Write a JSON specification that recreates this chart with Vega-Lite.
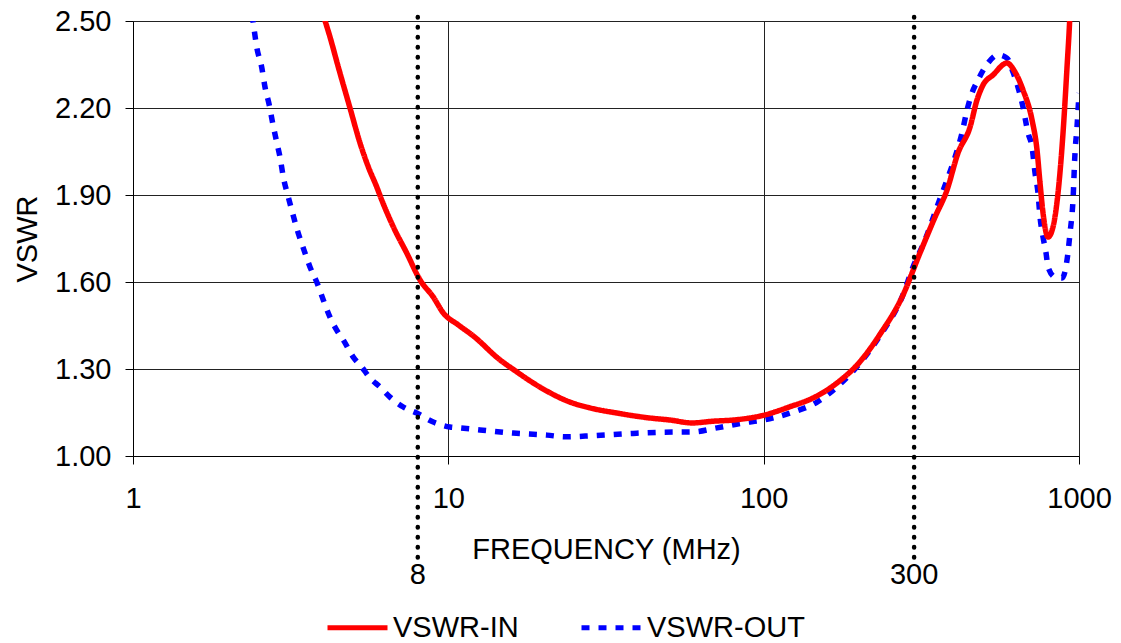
{
  "$schema": "https://vega.github.io/schema/vega-lite/v6.json",
  "width": 946,
  "height": 435,
  "autosize": {"type": "none"},
  "padding": {"left": 133, "top": 21, "right": 42, "bottom": 187},
  "background": "white",
  "config": {
    "view": {"stroke": null},
    "font": "Liberation Sans",
    "axis": {
      "labelFont": "Liberation Sans",
      "labelFontSize": 29,
      "labelColor": "#000",
      "titleFont": "Liberation Sans",
      "titleFontSize": 29,
      "titleFontWeight": "normal",
      "titleColor": "#000",
      "domainColor": "#000",
      "domainWidth": 1,
      "tickColor": "#000",
      "tickSize": 8,
      "gridColor": "#222",
      "gridOpacity": 1,
      "gridWidth": 1,
      "labelOverlap": false,
      "labelBound": false,
      "labelFlush": false
    }
  },
  "datasets": {
    "vswr": [
      {"series": "VSWR-IN", "freq": 3.8, "vswr": 2.6},
      {"series": "VSWR-IN", "freq": 4.013, "vswr": 2.52},
      {"series": "VSWR-IN", "freq": 4.214, "vswr": 2.445},
      {"series": "VSWR-IN", "freq": 4.478, "vswr": 2.341},
      {"series": "VSWR-IN", "freq": 4.877, "vswr": 2.2},
      {"series": "VSWR-IN", "freq": 5.248, "vswr": 2.079},
      {"series": "VSWR-IN", "freq": 5.575, "vswr": 1.997},
      {"series": "VSWR-IN", "freq": 5.927, "vswr": 1.928},
      {"series": "VSWR-IN", "freq": 6.148, "vswr": 1.883},
      {"series": "VSWR-IN", "freq": 6.693, "vswr": 1.79},
      {"series": "VSWR-IN", "freq": 7.379, "vswr": 1.7},
      {"series": "VSWR-IN", "freq": 8.134, "vswr": 1.607},
      {"series": "VSWR-IN", "freq": 8.961, "vswr": 1.548},
      {"series": "VSWR-IN", "freq": 9.641, "vswr": 1.493},
      {"series": "VSWR-IN", "freq": 10.755, "vswr": 1.452},
      {"series": "VSWR-IN", "freq": 12.0, "vswr": 1.414},
      {"series": "VSWR-IN", "freq": 14.6, "vswr": 1.331},
      {"series": "VSWR-IN", "freq": 16.0, "vswr": 1.3},
      {"series": "VSWR-IN", "freq": 19.5, "vswr": 1.238},
      {"series": "VSWR-IN", "freq": 24.3, "vswr": 1.186},
      {"series": "VSWR-IN", "freq": 28.1, "vswr": 1.166},
      {"series": "VSWR-IN", "freq": 34.3, "vswr": 1.148},
      {"series": "VSWR-IN", "freq": 43.6, "vswr": 1.131},
      {"series": "VSWR-IN", "freq": 50.5, "vswr": 1.124},
      {"series": "VSWR-IN", "freq": 59.3, "vswr": 1.114},
      {"series": "VSWR-IN", "freq": 69.1, "vswr": 1.12},
      {"series": "VSWR-IN", "freq": 80.0, "vswr": 1.124},
      {"series": "VSWR-IN", "freq": 99.5, "vswr": 1.14},
      {"series": "VSWR-IN", "freq": 121.2, "vswr": 1.17},
      {"series": "VSWR-IN", "freq": 143.4, "vswr": 1.2},
      {"series": "VSWR-IN", "freq": 170.9, "vswr": 1.252},
      {"series": "VSWR-IN", "freq": 202, "vswr": 1.325},
      {"series": "VSWR-IN", "freq": 233.9, "vswr": 1.42},
      {"series": "VSWR-IN", "freq": 274.7, "vswr": 1.548},
      {"series": "VSWR-IN", "freq": 313.1, "vswr": 1.7},
      {"series": "VSWR-IN", "freq": 349.5, "vswr": 1.824},
      {"series": "VSWR-IN", "freq": 381.4, "vswr": 1.917},
      {"series": "VSWR-IN", "freq": 413.4, "vswr": 2.045},
      {"series": "VSWR-IN", "freq": 451.2, "vswr": 2.134},
      {"series": "VSWR-IN", "freq": 474.9, "vswr": 2.228},
      {"series": "VSWR-IN", "freq": 496.1, "vswr": 2.279},
      {"series": "VSWR-IN", "freq": 533.7, "vswr": 2.314},
      {"series": "VSWR-IN", "freq": 591.0, "vswr": 2.355},
      {"series": "VSWR-IN", "freq": 626.7, "vswr": 2.324},
      {"series": "VSWR-IN", "freq": 664.5, "vswr": 2.262},
      {"series": "VSWR-IN", "freq": 709.6, "vswr": 2.159},
      {"series": "VSWR-IN", "freq": 736.0, "vswr": 2.055},
      {"series": "VSWR-IN", "freq": 752.3, "vswr": 1.941},
      {"series": "VSWR-IN", "freq": 769.0, "vswr": 1.838},
      {"series": "VSWR-IN", "freq": 797.5, "vswr": 1.755},
      {"series": "VSWR-IN", "freq": 827.2, "vswr": 1.79},
      {"series": "VSWR-IN", "freq": 858.0, "vswr": 1.907},
      {"series": "VSWR-IN", "freq": 889.9, "vswr": 2.114},
      {"series": "VSWR-IN", "freq": 916.3, "vswr": 2.341},
      {"series": "VSWR-IN", "freq": 936.6, "vswr": 2.53},
      {"series": "VSWR-IN", "freq": 955, "vswr": 2.8},
      {"series": "VSWR-OUT", "freq": 2.35, "vswr": 2.58},
      {"series": "VSWR-OUT", "freq": 2.407, "vswr": 2.493},
      {"series": "VSWR-OUT", "freq": 2.468, "vswr": 2.41},
      {"series": "VSWR-OUT", "freq": 2.559, "vswr": 2.341},
      {"series": "VSWR-OUT", "freq": 2.622, "vswr": 2.272},
      {"series": "VSWR-OUT", "freq": 2.705, "vswr": 2.21},
      {"series": "VSWR-OUT", "freq": 2.773, "vswr": 2.148},
      {"series": "VSWR-OUT", "freq": 2.855, "vswr": 2.083},
      {"series": "VSWR-OUT", "freq": 2.925, "vswr": 2.031},
      {"series": "VSWR-OUT", "freq": 2.997, "vswr": 1.962},
      {"series": "VSWR-OUT", "freq": 3.108, "vswr": 1.893},
      {"series": "VSWR-OUT", "freq": 3.2, "vswr": 1.841},
      {"series": "VSWR-OUT", "freq": 3.319, "vswr": 1.779},
      {"series": "VSWR-OUT", "freq": 3.468, "vswr": 1.717},
      {"series": "VSWR-OUT", "freq": 3.641, "vswr": 1.652},
      {"series": "VSWR-OUT", "freq": 3.825, "vswr": 1.6},
      {"series": "VSWR-OUT", "freq": 4.013, "vswr": 1.538},
      {"series": "VSWR-OUT", "freq": 4.214, "vswr": 1.479},
      {"series": "VSWR-OUT", "freq": 4.426, "vswr": 1.434},
      {"series": "VSWR-OUT", "freq": 4.645, "vswr": 1.4},
      {"series": "VSWR-OUT", "freq": 4.995, "vswr": 1.341},
      {"series": "VSWR-OUT", "freq": 5.312, "vswr": 1.307},
      {"series": "VSWR-OUT", "freq": 5.645, "vswr": 1.269},
      {"series": "VSWR-OUT", "freq": 6.073, "vswr": 1.238},
      {"series": "VSWR-OUT", "freq": 6.531, "vswr": 1.203},
      {"series": "VSWR-OUT", "freq": 7.197, "vswr": 1.169},
      {"series": "VSWR-OUT", "freq": 7.94, "vswr": 1.148},
      {"series": "VSWR-OUT", "freq": 8.961, "vswr": 1.117},
      {"series": "VSWR-OUT", "freq": 10.12, "vswr": 1.1},
      {"series": "VSWR-OUT", "freq": 10.89, "vswr": 1.097},
      {"series": "VSWR-OUT", "freq": 12.6, "vswr": 1.09},
      {"series": "VSWR-OUT", "freq": 16.04, "vswr": 1.079},
      {"series": "VSWR-OUT", "freq": 20.56, "vswr": 1.072},
      {"series": "VSWR-OUT", "freq": 23.44, "vswr": 1.066},
      {"series": "VSWR-OUT", "freq": 28.76, "vswr": 1.07},
      {"series": "VSWR-OUT", "freq": 38.5, "vswr": 1.078},
      {"series": "VSWR-OUT", "freq": 47.96, "vswr": 1.082},
      {"series": "VSWR-OUT", "freq": 59.7, "vswr": 1.083},
      {"series": "VSWR-OUT", "freq": 71.1, "vswr": 1.097},
      {"series": "VSWR-OUT", "freq": 86.0, "vswr": 1.114},
      {"series": "VSWR-OUT", "freq": 99.5, "vswr": 1.124},
      {"series": "VSWR-OUT", "freq": 121.2, "vswr": 1.148},
      {"series": "VSWR-OUT", "freq": 147.7, "vswr": 1.186},
      {"series": "VSWR-OUT", "freq": 174.7, "vswr": 1.248},
      {"series": "VSWR-OUT", "freq": 202, "vswr": 1.32},
      {"series": "VSWR-OUT", "freq": 233.9, "vswr": 1.415},
      {"series": "VSWR-OUT", "freq": 274.7, "vswr": 1.548},
      {"series": "VSWR-OUT", "freq": 297.6, "vswr": 1.652},
      {"series": "VSWR-OUT", "freq": 324.9, "vswr": 1.745},
      {"series": "VSWR-OUT", "freq": 354.6, "vswr": 1.859},
      {"series": "VSWR-OUT", "freq": 381.4, "vswr": 1.952},
      {"series": "VSWR-OUT", "freq": 404.5, "vswr": 2.031},
      {"series": "VSWR-OUT", "freq": 425.6, "vswr": 2.114},
      {"series": "VSWR-OUT", "freq": 441.5, "vswr": 2.193},
      {"series": "VSWR-OUT", "freq": 457.9, "vswr": 2.252},
      {"series": "VSWR-OUT", "freq": 478.4, "vswr": 2.297},
      {"series": "VSWR-OUT", "freq": 514.5, "vswr": 2.355},
      {"series": "VSWR-OUT", "freq": 553.6, "vswr": 2.383},
      {"series": "VSWR-OUT", "freq": 591, "vswr": 2.372},
      {"series": "VSWR-OUT", "freq": 617.6, "vswr": 2.324},
      {"series": "VSWR-OUT", "freq": 640.6, "vswr": 2.272},
      {"series": "VSWR-OUT", "freq": 664.5, "vswr": 2.203},
      {"series": "VSWR-OUT", "freq": 689, "vswr": 2.114},
      {"series": "VSWR-OUT", "freq": 709.6, "vswr": 2.066},
      {"series": "VSWR-OUT", "freq": 725.4, "vswr": 1.976},
      {"series": "VSWR-OUT", "freq": 741.3, "vswr": 1.907},
      {"series": "VSWR-OUT", "freq": 752.3, "vswr": 1.824},
      {"series": "VSWR-OUT", "freq": 769, "vswr": 1.755},
      {"series": "VSWR-OUT", "freq": 786.1, "vswr": 1.7},
      {"series": "VSWR-OUT", "freq": 797.5, "vswr": 1.652},
      {"series": "VSWR-OUT", "freq": 839.3, "vswr": 1.617},
      {"series": "VSWR-OUT", "freq": 883.4, "vswr": 1.614},
      {"series": "VSWR-OUT", "freq": 916.3, "vswr": 1.676},
      {"series": "VSWR-OUT", "freq": 936.6, "vswr": 1.769},
      {"series": "VSWR-OUT", "freq": 957.2, "vswr": 1.883},
      {"series": "VSWR-OUT", "freq": 971.2, "vswr": 2.045},
      {"series": "VSWR-OUT", "freq": 985.5, "vswr": 2.134},
      {"series": "VSWR-OUT", "freq": 1000, "vswr": 2.252}
    ],
    "markers": [
      {"freq": 8, "label": "8"},
      {"freq": 300, "label": "300"}
    ]
  },
  "layer": [
    {
      "data": {"name": "vswr"},
      "transform": [{"filter": "datum.series === 'VSWR-OUT'"}],
      "mark": {"type": "line", "clip": true, "strokeWidth": 5.5, "strokeCap": "butt", "interpolate": "monotone"},
      "encoding": {
        "x": {
          "field": "freq",
          "type": "quantitative",
          "scale": {"type": "log", "domain": [1, 1000]},
          "axis": {
            "title": "FREQUENCY (MHz)",
            "values": [1, 10, 100, 1000],
            "format": "d",
            "grid": true,
            "labelPadding": 20,
            "titlePadding": 22
          }
        },
        "y": {
          "field": "vswr",
          "type": "quantitative",
          "scale": {"domain": [1, 2.5], "zero": false, "nice": false},
          "axis": {
            "title": "VSWR",
            "values": [1, 1.3, 1.6, 1.9, 2.2, 2.5],
            "format": ".2f",
            "grid": true,
            "labelPadding": 14,
            "titlePadding": 12
          }
        },
        "color": {
          "field": "series",
          "type": "nominal",
          "scale": {"domain": ["VSWR-IN", "VSWR-OUT"], "range": ["#ff0000", "#0000ff"]},
          "legend": {
            "title": null,
            "orient": "none",
            "legendX": 192,
            "legendY": 574,
            "direction": "horizontal",
            "symbolType": "stroke",
            "symbolSize": 3600,
            "symbolStrokeWidth": 5,
            "labelFontSize": 29,
            "labelFont": "Liberation Sans",
            "labelColor": "#000",
            "labelOffset": 3,
            "labelLimit": 400,
            "columnPadding": 52,
            "padding": 0
          }
        },
        "strokeDash": {
          "field": "series",
          "type": "nominal",
          "scale": {"domain": ["VSWR-IN", "VSWR-OUT"], "range": [[1, 0], [8, 9]]},
          "legend": {
            "title": null,
            "orient": "none",
            "legendX": 192,
            "legendY": 574,
            "direction": "horizontal",
            "symbolType": "stroke",
            "symbolSize": 3600,
            "symbolStrokeWidth": 5,
            "labelFontSize": 29,
            "labelFont": "Liberation Sans",
            "labelColor": "#000",
            "labelOffset": 3,
            "labelLimit": 400,
            "columnPadding": 52,
            "padding": 0
          }
        }
      }
    },
    {
      "data": {"name": "vswr"},
      "transform": [{"filter": "datum.series === 'VSWR-IN'"}],
      "mark": {"type": "line", "clip": true, "strokeWidth": 5.5, "strokeCap": "butt", "interpolate": "monotone"},
      "encoding": {
        "x": {"field": "freq", "type": "quantitative"},
        "y": {"field": "vswr", "type": "quantitative"},
        "color": {"field": "series", "type": "nominal"},
        "strokeDash": {"field": "series", "type": "nominal"}
      }
    },
    {
      "data": {"name": "markers"},
      "mark": {"type": "rule", "color": "#000", "strokeWidth": 4.5, "strokeCap": "round", "strokeDash": [0.5, 9.5]},
      "encoding": {
        "x": {"field": "freq", "type": "quantitative"},
        "y": {"datum": 2.514},
        "y2": {"datum": 0.641}
      }
    },
    {
      "data": {"name": "markers"},
      "mark": {"type": "text", "font": "Liberation Sans", "fontSize": 29, "color": "#000", "align": "center", "baseline": "middle"},
      "encoding": {
        "x": {"field": "freq", "type": "quantitative"},
        "y": {"datum": 0.59},
        "text": {"field": "label"}
      }
    }
  ]
}
